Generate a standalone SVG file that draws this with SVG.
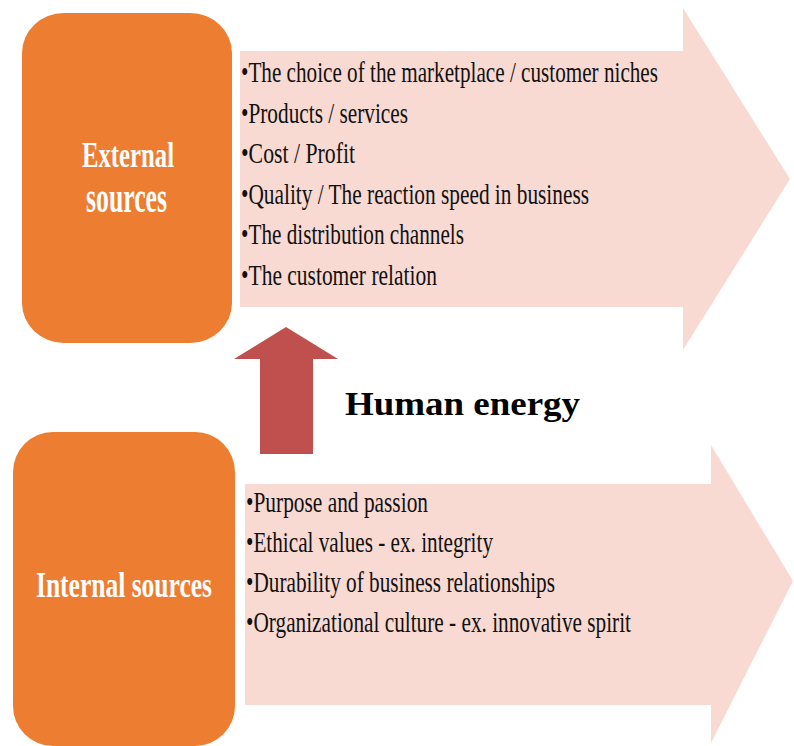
<svg xmlns="http://www.w3.org/2000/svg" width="794" height="746" viewBox="0 0 794 746">
<style>
.box{fill:#ED7D31;}
.band{fill:#F8DAD2;}
.up{fill:#C0504D;}
.title{font-family:"Liberation Serif","Times New Roman",serif;font-weight:bold;fill:#FFFFFF;}
.item{font-family:"Liberation Serif","Times New Roman",serif;font-size:29px;fill:#111111;}
.label{font-family:"Liberation Serif","Times New Roman",serif;font-weight:bold;font-size:34px;fill:#000000;}
</style>
<rect width="794" height="746" fill="#FFFFFF"/>
<g id="external-list">
<path class="band" d="M240,51 L683,51 L683,8 L790,179 L683,350 L683,307 L240,307 Z"/>
<text class="item" x="241" y="82" textLength="417" lengthAdjust="spacingAndGlyphs">•The choice of the marketplace / customer niches</text>
<text class="item" x="241" y="123" textLength="167" lengthAdjust="spacingAndGlyphs">•Products / services</text>
<text class="item" x="241" y="163" textLength="114" lengthAdjust="spacingAndGlyphs">•Cost / Profit</text>
<text class="item" x="241" y="204" textLength="348" lengthAdjust="spacingAndGlyphs">•Quality / The reaction speed in business</text>
<text class="item" x="241" y="244" textLength="223" lengthAdjust="spacingAndGlyphs">•The distribution channels</text>
<text class="item" x="241" y="285" textLength="196" lengthAdjust="spacingAndGlyphs">•The customer relation</text>
</g>
<g id="internal-list">
<path class="band" d="M245,484 L711,484 L711,445 L793,581 L711,743 L711,705 L245,705 Z"/>
<text class="item" x="246" y="512" textLength="182" lengthAdjust="spacingAndGlyphs">•Purpose and passion</text>
<text class="item" x="246" y="552" textLength="247" lengthAdjust="spacingAndGlyphs">•Ethical values - ex. integrity</text>
<text class="item" x="246" y="592" textLength="309" lengthAdjust="spacingAndGlyphs">•Durability of business relationships</text>
<text class="item" x="246" y="632" textLength="385" lengthAdjust="spacingAndGlyphs">•Organizational culture - ex. innovative spirit</text>
</g>
<g id="external-sources">
<rect class="box" x="22" y="13" width="210" height="330" rx="42" ry="40"/>
<text class="title" x="82" y="167" font-size="36" textLength="92" lengthAdjust="spacingAndGlyphs">External</text>
<text class="title" x="86" y="212" font-size="44" textLength="81" lengthAdjust="spacingAndGlyphs">sources</text>
</g>
<g id="internal-sources">
<rect class="box" x="13" y="432" width="222" height="314" rx="40" ry="40"/>
<text class="title" x="36" y="597" font-size="36" textLength="176" lengthAdjust="spacingAndGlyphs">Internal sources</text>
</g>
<g id="connectors">
<path class="up" d="M260,454 L260,359 L234,359 L286,327 L338,359 L313,359 L313,454 Z"/>
</g>
<g id="human-energy">
<text class="label" x="345" y="415" textLength="235" lengthAdjust="spacingAndGlyphs">Human energy</text>
</g>
</svg>
